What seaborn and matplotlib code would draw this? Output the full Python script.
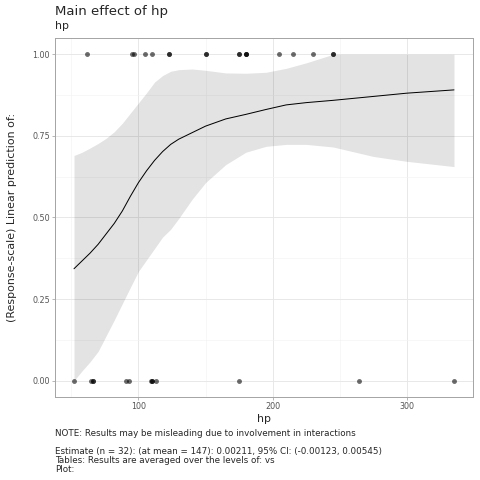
import matplotlib
matplotlib.use("Agg")
import matplotlib.pyplot as plt
import seaborn as sns
import pandas as pd
from matplotlib.ticker import MultipleLocator, FormatStrFormatter

# observed data (hp by outcome level)
hp_one = [62, 95, 97, 105, 110, 123, 123, 150, 150, 175, 175, 180, 180, 180, 205, 215, 230, 245, 245]
hp_zero = [52, 65, 66, 66, 91, 93, 109, 110, 110, 113, 175, 264, 335]

# fitted main effect with 95% band
fit_hp = [52, 58, 64, 70, 76, 82, 88, 94, 100, 106, 112, 118, 124, 130, 140, 150, 165, 180,
          195, 210, 225, 245, 275, 300, 335]
fit_est = [0.343, 0.367, 0.391, 0.418, 0.450, 0.482, 0.520, 0.565, 0.607, 0.643, 0.675, 0.702,
           0.724, 0.740, 0.760, 0.780, 0.802, 0.816, 0.831, 0.845, 0.852, 0.859, 0.871, 0.881, 0.891]
fit_low = [0.000, 0.030, 0.058, 0.090, 0.138, 0.186, 0.236, 0.286, 0.335, 0.370, 0.405, 0.440,
           0.464, 0.497, 0.556, 0.607, 0.662, 0.700, 0.718, 0.724, 0.724, 0.716, 0.687, 0.672, 0.656]
fit_high = [0.690, 0.700, 0.713, 0.727, 0.743, 0.763, 0.789, 0.820, 0.851, 0.882, 0.915, 0.935,
            0.948, 0.953, 0.955, 0.951, 0.943, 0.942, 0.945, 0.957, 0.974, 1.000, 1.000, 1.000, 1.000]

caption_lines = [
    "NOTE: Results may be misleading due to involvement in interactions",
    "",
    "Estimate (n = 32): (at mean = 147): 0.00211, 95% CI: (-0.00123, 0.00545)",
    "Tables: Results are averaged over the levels of: vs",
    "Plot:",
]

points = pd.DataFrame({
    "hp": hp_one + hp_zero,
    "y": [1.0] * len(hp_one) + [0.0] * len(hp_zero),
})
fit = pd.DataFrame({"hp": fit_hp, "est": fit_est, "low": fit_low, "high": fit_high})

sns.set_theme(style="white")
plt.rcParams["font.family"] = ["DejaVu Sans"]

W = 480
fig = plt.figure(figsize=(W / 72, W / 72), dpi=72)
ax = fig.add_axes([55 / W, 1 - 397 / W, (473 - 55) / W, (397 - 38) / W])

ax.xaxis.set_major_locator(MultipleLocator(100))
ax.xaxis.set_minor_locator(MultipleLocator(50))
ax.yaxis.set_major_locator(MultipleLocator(0.25))
ax.yaxis.set_minor_locator(MultipleLocator(0.125))
ax.grid(which="major", color="#E6E6E6", lw=0.9)
ax.grid(which="minor", color="#F2F2F2", lw=0.6)
ax.set_axisbelow(True)

ax.fill_between(fit["hp"], fit["low"], fit["high"], color="black", alpha=0.11, lw=0, zorder=1)
sns.lineplot(data=fit, x="hp", y="est", color="black", lw=1.0, ax=ax, zorder=3)
sns.scatterplot(data=points, x="hp", y="y", color="black", alpha=0.58, s=24, linewidth=0, ax=ax, zorder=4)

ax.set_xlim(37.85, 349.15)
ax.set_ylim(-0.05, 1.05)
ax.yaxis.set_major_formatter(FormatStrFormatter("%.2f"))

for s in ax.spines.values():
    s.set_color("#A6A6A6")
    s.set_linewidth(1.0)
ax.tick_params(which="major", length=3, width=0.8, color="#A6A6A6", labelsize=8, labelcolor="#555555", pad=2,
               bottom=True, left=True)
ax.tick_params(which="minor", length=0)

ax.set_xlabel("hp", fontsize=11, labelpad=3)
ax.set_ylabel("(Response-scale) Linear prediction of:", fontsize=11)
ax.yaxis.set_label_coords((17.5 - 55) / 418, 0.5)

fig.text(55 / W, 1 - 15 / W, "Main effect of hp", fontsize=13.2, va="baseline", ha="left")
fig.text(55 / W, 1 - 29 / W, "hp", fontsize=11, va="baseline", ha="left")

base = 436
for i, line in enumerate(caption_lines):
    if line:
        fig.text(55 / W, 1 - (base + 9 * i) / W, line, fontsize=8.8, va="baseline", ha="left")

fig.savefig("out.png", dpi=72, facecolor="white")
